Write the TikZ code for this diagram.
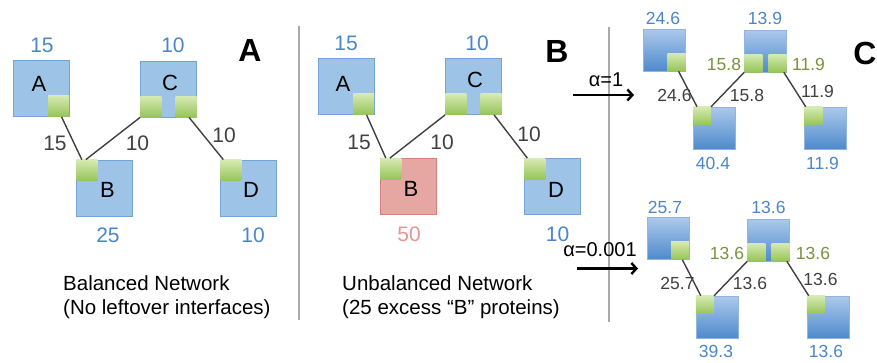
\documentclass[tikz,border=0pt]{standalone}
\usepackage{fontspec}
\setmainfont{Liberation Sans}
\usepackage{tikz}
\usetikzlibrary{arrows.meta,positioning}

\definecolor{protblue}{RGB}{157,195,230}
\definecolor{protline}{RGB}{118,163,214}
\definecolor{excessred}{RGB}{230,166,161}
\definecolor{excessline}{RGB}{214,128,122}
\definecolor{ifacetop}{RGB}{214,234,178}
\definecolor{ifacebot}{RGB}{150,196,88}
\definecolor{fittop}{RGB}{172,201,236}
\definecolor{fitbot}{RGB}{78,138,204}
\definecolor{numblue}{RGB}{74,134,200}
\definecolor{numred}{RGB}{228,150,145}
\definecolor{numgreen}{RGB}{119,147,60}
\definecolor{bondgray}{RGB}{64,64,64}
\definecolor{divgray}{RGB}{170,170,170}

\tikzset{
  prot/.style={draw=protline, fill=protblue, line width=0.8pt, minimum size=56pt, inner sep=0pt},
  protx/.style={prot, draw=excessline, fill=excessred},
  protfit/.style={draw=protline!80, top color=fittop, bottom color=fitbot, line width=0.6pt, minimum size=42pt, inner sep=0pt},
  iface/.style={top color=ifacetop, bottom color=ifacebot, minimum size=21pt, inner sep=0pt},
  ifacefit/.style={iface, minimum size=18pt},
  bond/.style={bondgray, line width=1.4pt},
  letter/.style={font=\fontsize{22}{26}\selectfont, inner sep=0pt},
  count/.style={text=numblue, font=\fontsize{21}{25}\selectfont, inner sep=0pt},
  flux/.style={text=bondgray, font=\fontsize{21}{25}\selectfont, inner sep=0pt},
  countfit/.style={count, font=\fontsize{17.5}{21}\selectfont},
  fluxfit/.style={flux, font=\fontsize{17.5}{21}\selectfont},
  ifacenum/.style={countfit, text=numgreen},
  panel/.style={font=\fontsize{32}{36}\selectfont\bfseries, inner sep=0pt},
  caption/.style={font=\fontsize{20.5}{24}\selectfont, align=left, inner sep=0pt, anchor=north west},
  alphalabel/.style={font=\fontsize{20}{24}\selectfont, inner sep=0pt},
  alphaarrow/.style={line width=2.4pt, -{Straight Barb[length=5pt,width=11pt]}},
  divider/.style={divgray, line width=1.5pt}
}

\begin{document}
\begin{tikzpicture}[x=1pt, y=-1pt]
    \useasboundingbox (0,0) rectangle (877,362);

    % A: balanced network
    \node[prot] (a1) at (41,88.5) {};
    \node[prot] (c1) at (168.5,89) {};
    \node[prot] (b1) at (104.5,188) {};
    \node[prot] (d1) at (248.5,188) {};
    \node[iface, anchor=south east] (ga1) at (a1.south east) {};
    \node[iface, anchor=south west] (gc1) at (c1.south west) {};
    \node[iface, anchor=south east] (hc1) at (c1.south east) {};
    \node[iface, anchor=north west] (gb1) at (b1.north west) {};
    \node[iface, anchor=north west] (gd1) at (d1.north west) {};
    \node[letter] (la1) at (39,84) {A};
    \node[letter] (lc1) at (170,83) {C};
    \node[letter] (lb1) at (107.5,190) {B};
    \node[letter] (ld1) at (251,190) {D};
    \node[count] (na1) at (42,45) {15};
    \node[count] (nc1) at (173,45) {10};
    \node[count] (nb1) at (108,235) {25};
    \node[count] (nd1) at (253,235) {10};
    \draw[bond] (ga1.-75) -- (gb1.115);
    \draw[bond] (gc1.south west) -- (gb1.95);
    \draw[bond] (hc1.-75) -- (gd1.125);
    \node[flux] (fab1) at (55,143) {15};
    \node[flux] (fcb1) at (137.5,143) {10};
    \node[flux] (fcd1) at (224,135) {10};
    \node[panel] (pa) at (250,50.5) {A};
    \node[caption] (capa) at (63,275) {Balanced Network\\(No leftover interfaces)};

    \draw[divider] (299,26) -- (299,320);

    % B: unbalanced network
    \node[prot] (a2) at (346,86.5) {};
    \node[prot] (c2) at (473.5,86.5) {};
    \node[protx] (b2) at (408.5,186.5) {};
    \node[prot] (d2) at (552.5,186.5) {};
    \node[iface, anchor=south east] (ga2) at (a2.south east) {};
    \node[iface, anchor=south west] (gc2) at (c2.south west) {};
    \node[iface, anchor=south east] (hc2) at (c2.south east) {};
    \node[iface, anchor=north west] (gb2) at (b2.north west) {};
    \node[iface, anchor=north west] (gd2) at (d2.north west) {};
    \node[letter] (la2) at (343,83.5) {A};
    \node[letter] (lc2) at (475,80) {C};
    \node[letter] (lb2) at (411,189) {B};
    \node[letter] (ld2) at (556,190) {D};
    \node[count] (na2) at (346,43) {15};
    \node[count] (nc2) at (477,43) {10};
    \node[count, text=numred] (nb2) at (409,234) {50};
    \node[count] (nd2) at (557.5,234) {10};
    \draw[bond] (ga2.-75) -- (gb2.115);
    \draw[bond] (gc2.south west) -- (gb2.95);
    \draw[bond] (hc2.-75) -- (gd2.125);
    \node[flux] (fab2) at (359,142) {15};
    \node[flux] (fcb2) at (442,142) {10};
    \node[flux] (fcd2) at (529,134) {10};
    \node[panel] (pb) at (557,51) {B};
    \node[caption] (capb) at (342,275) {Unbalanced Network\\(25 excess “B” proteins)};

    \draw[divider] (609,27) -- (609,322);

    % C: alpha = 1
    \coordinate (s1) at (573,95);
    \coordinate (t1) at (634,95);
    \draw[alphaarrow] (s1) -- (t1);
    \node[alphalabel] (al1) at (606,80) {α=1};
    \node[protfit] (a3) at (664.5,50) {};
    \node[protfit] (c3) at (765.5,51) {};
    \node[protfit] (b3) at (714,128) {};
    \node[protfit] (d3) at (825.5,128) {};
    \node[ifacefit, anchor=south east] (ga3) at (a3.south east) {};
    \node[ifacefit, anchor=south west] (gc3) at (c3.south west) {};
    \node[ifacefit, anchor=south east] (hc3) at (c3.south east) {};
    \node[ifacefit, anchor=north west] (gb3) at (b3.north west) {};
    \node[ifacefit, anchor=north west] (gd3) at (d3.north west) {};
    \node[countfit] (na3) at (663,18) {24.6};
    \node[countfit] (nc3) at (765,18) {13.9};
    \node[countfit] (nb3) at (713,163) {40.4};
    \node[countfit] (nd3) at (822.5,163) {11.9};
    \node[ifacenum] (ic3) at (724,64.5) {15.8};
    \node[ifacenum] (jc3) at (808.5,64.5) {11.9};
    \draw[bond] (ga3.-78) -- (gb3.118);
    \draw[bond] (gc3.south west) -- (gb3.north east);
    \draw[bond] (hc3.-56) -- (gd3.130);
    \node[fluxfit] (fab3) at (674.5,95) {24.6};
    \node[fluxfit] (fcb3) at (747,95) {15.8};
    \node[fluxfit] (fcd3) at (817.5,91.5) {11.9};
    \node[panel] (pc) at (865,53.5) {C};

    % C: alpha = 0.001
    \coordinate (s2) at (577,268.5);
    \coordinate (t2) at (638,268.5);
    \draw[alphaarrow] (s2) -- (t2);
    \node[alphalabel] (al2) at (600,249.5) {α=0.001};
    \node[protfit] (a4) at (668,238.5) {};
    \node[protfit] (c4) at (768.5,240) {};
    \node[protfit] (b4) at (717,317) {};
    \node[protfit] (d4) at (828,317) {};
    \node[ifacefit, anchor=south east] (ga4) at (a4.south east) {};
    \node[ifacefit, anchor=south west] (gc4) at (c4.south west) {};
    \node[ifacefit, anchor=south east] (hc4) at (c4.south east) {};
    \node[ifacefit, anchor=north west] (gb4) at (b4.north west) {};
    \node[ifacefit, anchor=north west] (gd4) at (d4.north west) {};
    \node[countfit] (na4) at (665,207.5) {25.7};
    \node[countfit] (nc4) at (768.5,207.5) {13.6};
    \node[countfit] (nb4) at (716,351) {39.3};
    \node[countfit] (nd4) at (826,351) {13.6};
    \node[ifacenum] (ic4) at (727,253.5) {13.6};
    \node[ifacenum] (jc4) at (813,253.5) {13.6};
    \draw[bond] (ga4.-76) -- (gb4.114);
    \draw[bond] (gc4.south west) -- (gb4.north east);
    \draw[bond] (hc4.-56) -- (gd4.128);
    \node[fluxfit] (fab4) at (677.5,283.5) {25.7};
    \node[fluxfit] (fcb4) at (750,283.5) {13.6};
    \node[fluxfit] (fcd4) at (820.5,279.5) {13.6};
\end{tikzpicture}
\end{document}
